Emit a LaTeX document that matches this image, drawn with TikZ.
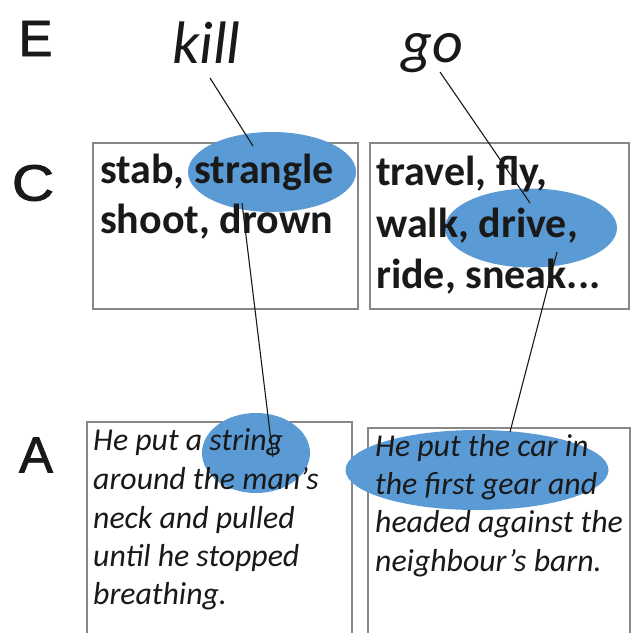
\documentclass[tikz,border=0pt]{standalone}
\usepackage{fontspec}
\setmainfont{Carlito}
\newfontfamily\labelfont[FakeBold=1.6]{Liberation Sans}
\usetikzlibrary{shapes.geometric}
\definecolor{ellblue}{RGB}{91,155,213}
\definecolor{boxgray}{RGB}{135,135,135}
\definecolor{ink}{RGB}{25,25,25}
\begin{document}
\begin{tikzpicture}[x=1pt,y=-1pt,
  panel/.style={draw=boxgray,line width=1.6pt},
  hilite/.style={ellipse,fill=ellblue,draw=none,inner sep=0pt},
  link/.style={draw=ink,line width=1.1pt},
  rowlabel/.style={font=\labelfont\fontsize{51}{51}\selectfont,text=ink,inner sep=0pt},
  verb/.style={font=\itshape\fontsize{60}{60}\selectfont,text=ink,inner sep=0pt,anchor=base west},
  cline/.style={font=\bfseries\fontsize{42}{42}\selectfont,text=ink,inner sep=0pt,anchor=base west},
  aline/.style={font=\itshape\fontsize{31.8}{31.8}\selectfont,text=ink,inner sep=0pt,anchor=base west}
]
\useasboundingbox (0,0) rectangle (631,633);
\fill[white] (0,0) rectangle (631,633);

% row labels
\node[rowlabel] (labE) at (35.5,38.5) {E};
\node[rowlabel,xscale=1.15] (labC) at (33,183) {C};
\node[rowlabel] (labA) at (36,455) {A};

% verbs
\node[verb] (kill) at (172,63) {kill};
\node[verb] (go) at (401,62) {go};

% boxes
\draw[panel] (93,143) rectangle (358,309);
\draw[panel] (370,143) rectangle (629,309);
\draw[panel] (87,633) -- (87,422) -- (352,422) -- (352,633);
\draw[panel] (368,633) -- (368,428) -- (630,428) -- (630,633);

% highlight ellipses
\node[hilite,minimum width=168pt,minimum height=80pt] (ell1) at (272,172) {};
\node[hilite,minimum width=172pt,minimum height=79pt] (ell2) at (531,228) {};
\node[hilite,minimum width=108pt,minimum height=80pt] (ell3) at (256,453) {};
\node[hilite,minimum width=263pt,minimum height=80pt] (ell4) at (477,470) {};

% C texts
\node[cline] (c1a) at (100,183) {stab, strangle};
\node[cline] (c1b) at (100,233) {shoot, drown};
\node[cline] (c2a) at (376,185) {travel, fly,};
\node[cline] (c2b) at (376,237) {walk, drive,};
\node[cline] (c2c) at (376,288) {ride, sneak...};

% A texts
\node[aline] (a1a) at (93,450) {He put a string};
\node[aline] (a1b) at (93,489) {around the man’s};
\node[aline] (a1c) at (93,528) {neck and pulled};
\node[aline] (a1d) at (93,566) {until he stopped};
\node[aline] (a1e) at (93,604) {breathing.};
\node[aline] (a2a) at (375,456) {He put the car in};
\node[aline] (a2b) at (375,494) {the first gear and};
\node[aline] (a2c) at (375,532) {headed against the};
\node[aline] (a2d) at (375,571) {neighbour’s barn.};

% connector end points
\coordinate (k0) at (210,78);
\coordinate (k1) at (253,146);
\coordinate (k2) at (242,203);
\coordinate (k3) at (273,457);
\coordinate (g0) at (440,72);
\coordinate (g1) at (530,203);
\coordinate (g2) at (557,252);
\coordinate (g3) at (510,432);

\draw[link] (k0) -- (k1);
\draw[link] (k2) -- (k3);
\draw[link] (g0) -- (g1);
\draw[link] (g2) -- (g3);
\end{tikzpicture}
\end{document}
